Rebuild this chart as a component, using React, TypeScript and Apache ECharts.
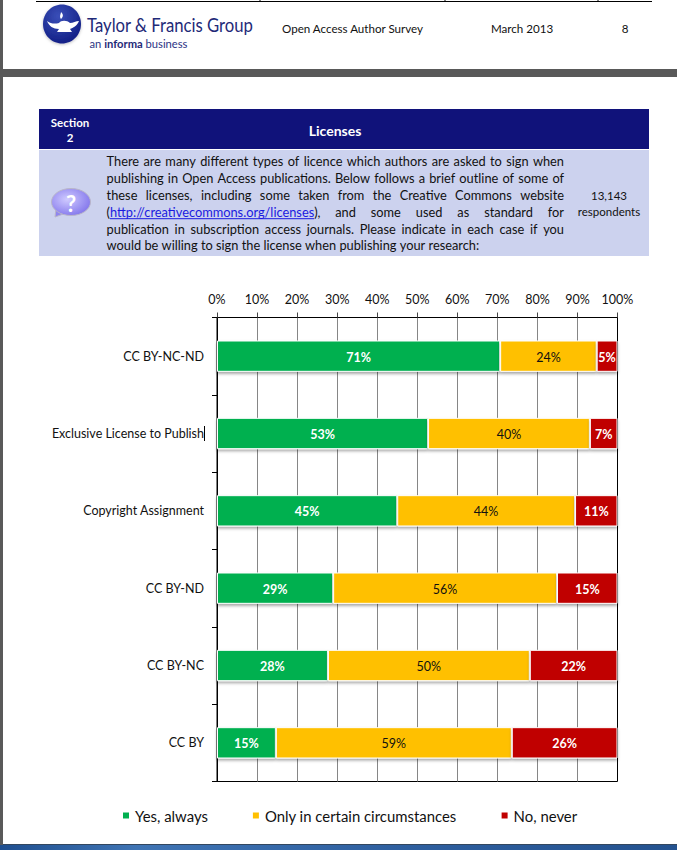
import React, { useEffect, useRef } from "react";
import * as echarts from "echarts";

const categories = ["CC BY-NC-ND", "Exclusive License to Publish", "Copyright Assignment", "CC BY-ND", "CC BY-NC", "CC BY"];
const yesAlways = [70.7, 52.7, 45.0, 29.0, 27.7, 14.7];
const onlyCertain = [24.1, 40.4, 44.4, 55.9, 50.4, 58.9];
const noNever = [5.2, 6.9, 10.6, 15.1, 21.9, 26.4];
const seriesNames = ["Yes, always", "Only in certain circumstances", "No, never"];
const paragraphLines = [
  "There are many different types of licence which authors are asked to sign when",
  "publishing in Open Access publications. Below follows a brief outline of some of",
  "these licenses, including some taken from the Creative Commons website",
  "(http://creativecommons.org/licenses), and some used as standard for",
  "publication in subscription access journals. Please indicate in each case if you",
  "would be willing to sign the license when publishing your research:",
];

const FONT = "Lato, Carlito, 'Noto Sans', sans-serif";
const PARA_SIZE = 12.8;

echarts.graphic.registerShape(
  "tfLamp",
  echarts.graphic.extendPath(
    "M48 21 C52 24 56 24 60 23 C62 20 68 20 71 23 C74 23 77 21 80 21 C78 26 74 28 71 29 L73 32 L58 32 L60 29 C54 29 50 26 48 21 Z M62 19 C60 16 62 14 62 12 C64 14 65 16 62 19 Z",
    {}
  )
);

function measure(text: string, size: number, weight = "normal") {
  const ctx = document.createElement("canvas").getContext("2d")!;
  ctx.font = `${weight} ${size}px ${FONT}`;
  return ctx.measureText(text).width;
}

function paragraph() {
  const left = 106.6, right = 564, els: any[] = [];
  const ys = [160.7, 177.7, 194.7, 211.7, 228.7, 244.7];
  paragraphLines.forEach((line, i) => {
    const words = line.split(" ");
    const widths = words.map((w) => measure(w, PARA_SIZE));
    const total = widths.reduce((a, b) => a + b, 0);
    const last = i === paragraphLines.length - 1;
    const gap = last ? measure(" ", PARA_SIZE) : (right - left - total) / (words.length - 1);
    let x = left;
    words.forEach((w, k) => {
      if (w.includes("http")) {
        const m = w.match(/^(\()(.*)(\),)$/)!;
        const pw = measure(m[1], PARA_SIZE);
        const lw = measure(m[2], PARA_SIZE);
        els.push({
          type: "text", x, y: ys[i],
          style: {
            text: `{a|(}{b|${m[2]}}{a|),}`, verticalAlign: "middle",
            font: `${PARA_SIZE}px ${FONT}`,
            rich: {
              a: { fill: "#111", fontSize: PARA_SIZE, fontFamily: FONT },
              b: { fill: "#1a1ae0", fontSize: PARA_SIZE, fontFamily: FONT },
            },
          },
        });
        els.push({
          type: "line",
          shape: { x1: x + pw, y1: ys[i] + 7, x2: x + pw + lw, y2: ys[i] + 7 },
          style: { stroke: "#1a1ae0", lineWidth: 1 },
        });
      } else {
        els.push({
          type: "text", x, y: ys[i],
          style: { text: w, fill: "#111", font: `${PARA_SIZE}px ${FONT}`, verticalAlign: "middle" },
        });
      }
      x += widths[k] + gap;
    });
  });
  return els;
}

function txt(text: string, x: number, y: number, size: number, fill = "#111", align = "center", weight = "normal") {
  return {
    type: "text", x, y,
    style: { text, fill, font: `${weight} ${size}px ${FONT}`, align, verticalAlign: "middle" },
  };
}

function pageGraphics() {
  return [
    // page frame
    { type: "rect", shape: { x: 0, y: 0, width: 3, height: 850 }, style: { fill: "#595959" } },
    { type: "rect", shape: { x: 0, y: 69, width: 677, height: 8 }, style: { fill: "#595959" } },
    {
      type: "rect", shape: { x: 0, y: 845, width: 677, height: 5 },
      style: {
        fill: new echarts.graphic.LinearGradient(0, 0, 1, 0, [
          { offset: 0, color: "#1f4f8f" }, { offset: 0.2, color: "#3f74b4" },
          { offset: 0.6, color: "#2e5f9f" }, { offset: 1, color: "#24528f" },
        ]),
      },
    },
    { type: "line", shape: { x1: 3, y1: 844.5, x2: 677, y2: 844.5 }, style: { stroke: "#33475f", lineWidth: 1 } },
    // header rule
    { type: "line", shape: { x1: 36, y1: 1.5, x2: 652, y2: 1.5 }, style: { stroke: "#000", lineWidth: 1 } },
    { type: "line", shape: { x1: 260, y1: 0, x2: 260, y2: 1 }, style: { stroke: "#000", lineWidth: 1 } },
    { type: "line", shape: { x1: 445, y1: 0, x2: 445, y2: 1 }, style: { stroke: "#000", lineWidth: 1 } },
    { type: "line", shape: { x1: 598, y1: 0, x2: 598, y2: 1 }, style: { stroke: "#000", lineWidth: 1 } },
    // logo
    {
      type: "ellipse", shape: { cx: 62, cy: 24, rx: 19, ry: 19.5 },
      style: {
        fill: new echarts.graphic.RadialGradient(0.4, 0.3, 0.8, [
          { offset: 0, color: "#3a4fb8" }, { offset: 1, color: "#0e1a80" },
        ]),
        shadowBlur: 3, shadowColor: "rgba(0,0,0,0.25)", shadowOffsetY: 1,
      },
    },
    { type: "tfLamp", x: -1, y: 0, style: { fill: "#fff" } },
    {
      type: "text", x: 87, y: 25, scaleX: 0.88,
      style: { text: "Taylor & Francis Group", fill: "#1f2a78", font: `19px ${FONT}`, align: "left", verticalAlign: "middle" },
    },
    {
      type: "text", x: 89.5, y: 43,
      style: {
        text: "{a|an }{b|informa}{a| business}", verticalAlign: "middle",
        font: `11.2px ${FONT}`,
        rich: {
          a: { fill: "#2c3585", fontSize: 11.2, fontFamily: FONT },
          b: { fill: "#1f2a78", fontSize: 11.2, fontFamily: FONT, fontWeight: 700 },
        },
      },
    },
    txt("Open Access Author Survey", 282, 28, 11.6, "#111", "left"),
    txt("March 2013", 491, 28, 11.6, "#111", "left"),
    txt("8", 625, 28, 11.6),
    // section banner
    { type: "rect", shape: { x: 39, y: 109, width: 610, height: 40 }, style: { fill: "#10127A" } },
    { type: "rect", shape: { x: 39, y: 150, width: 610, height: 106 }, style: { fill: "#CCD2EE" } },
    txt("Section", 70, 122, 11.5, "#fff", "center", "bold"),
    txt("2", 70, 137, 11.5, "#fff", "center", "bold"),
    txt("Licenses", 335, 130, 14, "#fff", "center", "bold"),
    // question icon
    { type: "polygon", shape: { points: [[56, 208], [66, 213], [55, 217]] }, style: { fill: "#8f86ee", stroke: "#b9b6c9", lineWidth: 1 } },
    {
      type: "ellipse", shape: { cx: 71, cy: 202, rx: 19.5, ry: 13.5 },
      style: {
        fill: new echarts.graphic.RadialGradient(0.4, 0.4, 0.7, [
          { offset: 0, color: "#cfcaff" }, { offset: 1, color: "#7d70ea" },
        ]),
        stroke: "#b9b6c9", lineWidth: 1,
      },
    },
    txt("?", 71, 203, 22, "#fff", "center", "bold"),
    ...paragraph(),
    txt("13,143", 609, 195, 11.5),
    txt("respondents", 609, 211, 11.5),
    // text cursor after the second category label
    { type: "line", shape: { x1: 204.5, y1: 426, x2: 204.5, y2: 441 }, style: { stroke: "#000", lineWidth: 1 } },
  ];
}

const barShadow = { shadowBlur: 3, shadowColor: "rgba(0,0,0,0.35)", shadowOffsetY: 2, borderColor: "#fff", borderWidth: 1 };

function makeSeries(name: string, data: number[], color: string, labelColor: string, weight: string) {
  return {
    name, type: "bar", stack: "total", data, barWidth: "40.5%",
    itemStyle: { color, ...barShadow },
    label: {
      show: true, position: "inside", offset: [0, 1], formatter: (p: any) => `${Math.round(p.value)}%`, color: labelColor,
      fontFamily: FONT, fontSize: 12.5, fontWeight: weight,
    },
  };
}

export default function App() {
  const ref = useRef<HTMLDivElement>(null);
  useEffect(() => {
    document.body.style.margin = "0";
    const chart = echarts.init(ref.current!, undefined, { renderer: "svg" });
    chart.setOption({
      animation: false,
      backgroundColor: "#fff",
      grid: { left: 217, right: 59.5, top: 317.5, bottom: 68.5, show: true, borderColor: "#000", borderWidth: 1, backgroundColor: "transparent" },
      xAxis: {
        type: "value", position: "top", min: 0, max: 100, interval: 10,
        axisLine: { show: true, lineStyle: { color: "#000", width: 1 } },
        axisTick: { show: true, length: 5, lineStyle: { color: "#444" } },
        axisLabel: { formatter: "{value}%", color: "#111", fontFamily: FONT, fontSize: 12.5, margin: 12 },
        splitLine: { show: true, showMinLine: false, showMaxLine: false, lineStyle: { color: "#868686", width: 1 } },
      },
      yAxis: {
        type: "category", inverse: true, data: categories,
        axisLine: { show: true, lineStyle: { color: "#000", width: 1 } },
        axisTick: { show: true, length: 5, alignWithLabel: false, lineStyle: { color: "#000" } },
        axisLabel: { color: "#111", fontFamily: FONT, fontSize: 12.5, margin: 13 },
        splitLine: { show: false },
      },
      legend: {
        left: 116, top: 803, itemWidth: 8, itemHeight: 8, itemGap: 43, icon: "rect",
        data: seriesNames,
        textStyle: { color: "#111", fontFamily: FONT, fontSize: 14.9 },
      },
      series: [
        makeSeries(seriesNames[0], yesAlways, "#00B050", "#fff", "bold"),
        makeSeries(seriesNames[1], onlyCertain, "#FFC000", "#111", "normal"),
        makeSeries(seriesNames[2], noNever, "#C00000", "#fff", "bold"),
      ],
      graphic: { elements: pageGraphics() },
    });
    return () => chart.dispose();
  }, []);
  return <div ref={ref} style={{ width: 677, height: 850 }} />;
}
